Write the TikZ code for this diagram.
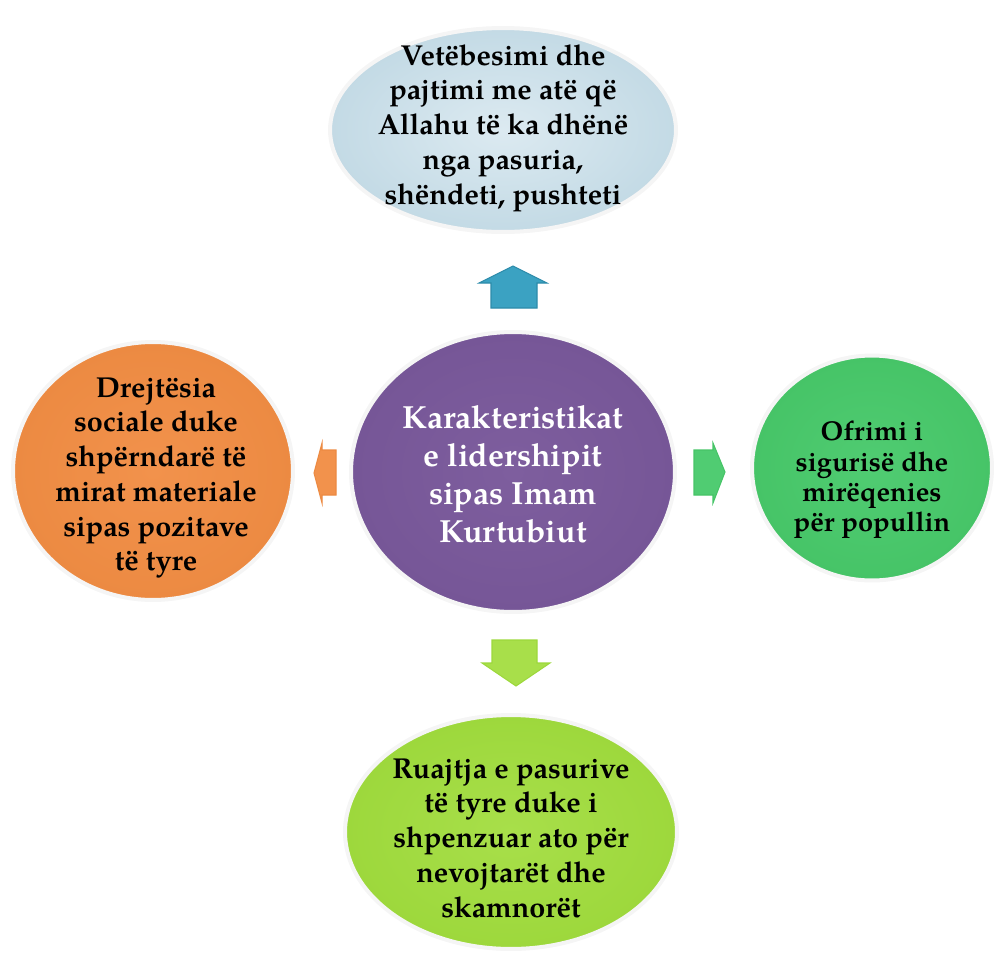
\documentclass[tikz,border=0pt]{standalone}
\usepackage{fontspec}
\setmainfont{TeX Gyre Pagella}
\usetikzlibrary{shapes.geometric}
\definecolor{topfill}{HTML}{DCEAF1}
\definecolor{topedge}{HTML}{C3DAE5}
\definecolor{purplefill}{HTML}{7E5E9E}
\definecolor{purpleedge}{HTML}{765697}
\definecolor{orangefill}{HTML}{F2924C}
\definecolor{orangeedge}{HTML}{EC8A42}
\definecolor{greenfill}{HTML}{50CC72}
\definecolor{greenedge}{HTML}{46C467}
\definecolor{limefill}{HTML}{A8DF4A}
\definecolor{limeedge}{HTML}{9DD83C}
\definecolor{bluearrow}{HTML}{3BA2C2}
\definecolor{bluearrowd}{HTML}{2C8BAA}
\tikzset{
  blob/.style={ellipse, inner sep=0pt, draw=black!4, line width=0.8mm},
  lbl/.style={align=center, font=\bfseries\fontsize{16.4}{19.8}\selectfont, text=black},
  blockarrow/.style={line width=0.6pt, line join=miter},
}
\begin{document}
\begin{tikzpicture}[x=0.02cm, y=-0.02cm]
\useasboundingbox (0,0) rectangle (994,957);
% shapes
\node[blob, minimum width=6.92cm, minimum height=4.08cm, inner color=topfill, outer color=topedge, shading=radial] (top) at (503,130) {};
\node[blob, minimum width=6.48cm, minimum height=5.6cm, inner color=purplefill, outer color=purpleedge, shading=radial] (mid) at (513,472) {};
\node[blob, minimum width=5.6cm, minimum height=5.16cm, inner color=orangefill, outer color=orangeedge, shading=radial] (left) at (153,471) {};
\node[blob, minimum width=4.8cm, minimum height=4.5cm, inner color=greenfill, outer color=greenedge, shading=radial] (right) at (872,468) {};
\node[blob, minimum width=6.64cm, minimum height=4.68cm, inner color=limefill, outer color=limeedge, shading=radial] (bot) at (511,832) {};
% texts
\node[lbl] (toptext) at (503,128) {Vetëbesimi dhe\\pajtimi me atë që\\Allahu të ka dhënë\\nga pasuria,\\shëndeti, pushteti};
\node[lbl, text=white, font=\bfseries\fontsize{18.2}{21.6}\selectfont] (midtext) at (513,474) {Karakteristikat\\e lidershipit\\sipas Imam\\Kurtubiut};
\node[lbl] (lefttext) at (156,478) {Drejtësia\\sociale duke\\shpërndarë të\\mirat materiale\\sipas pozitave\\të tyre};
\node[lbl, font=\bfseries\fontsize{15.5}{17.2}\selectfont] (righttext) at (872,480) {Ofrimi i\\sigurisë dhe\\mirëqenies\\për popullin};
\node[lbl] (bottext) at (511,838) {Ruajtja e pasurive\\të tyre duke i\\shpenzuar ato për\\nevojtarët dhe\\skamnorët};
% block arrows
\filldraw[blockarrow, fill=bluearrow, draw=bluearrowd] (491,308) -- (491,283) -- (479,283) -- (513,266) -- (547,283) -- (537,283) -- (537,308) -- cycle;
\filldraw[blockarrow, fill=limefill, draw=limeedge] (492,640) -- (537,640) -- (537,663) -- (550,663) -- (516,686) -- (482,663) -- (492,663) -- cycle;
\filldraw[blockarrow, fill=greenfill, draw=greenedge] (694,450) -- (713,450) -- (713,443) -- (725,472) -- (713,503) -- (713,495) -- (694,495) -- cycle;
\filldraw[blockarrow, fill=orangefill, draw=orangeedge] (336,450) -- (322,450) -- (322,443) -- (314,473) -- (322,503) -- (322,495) -- (336,495) -- cycle;
\end{tikzpicture}
\end{document}
